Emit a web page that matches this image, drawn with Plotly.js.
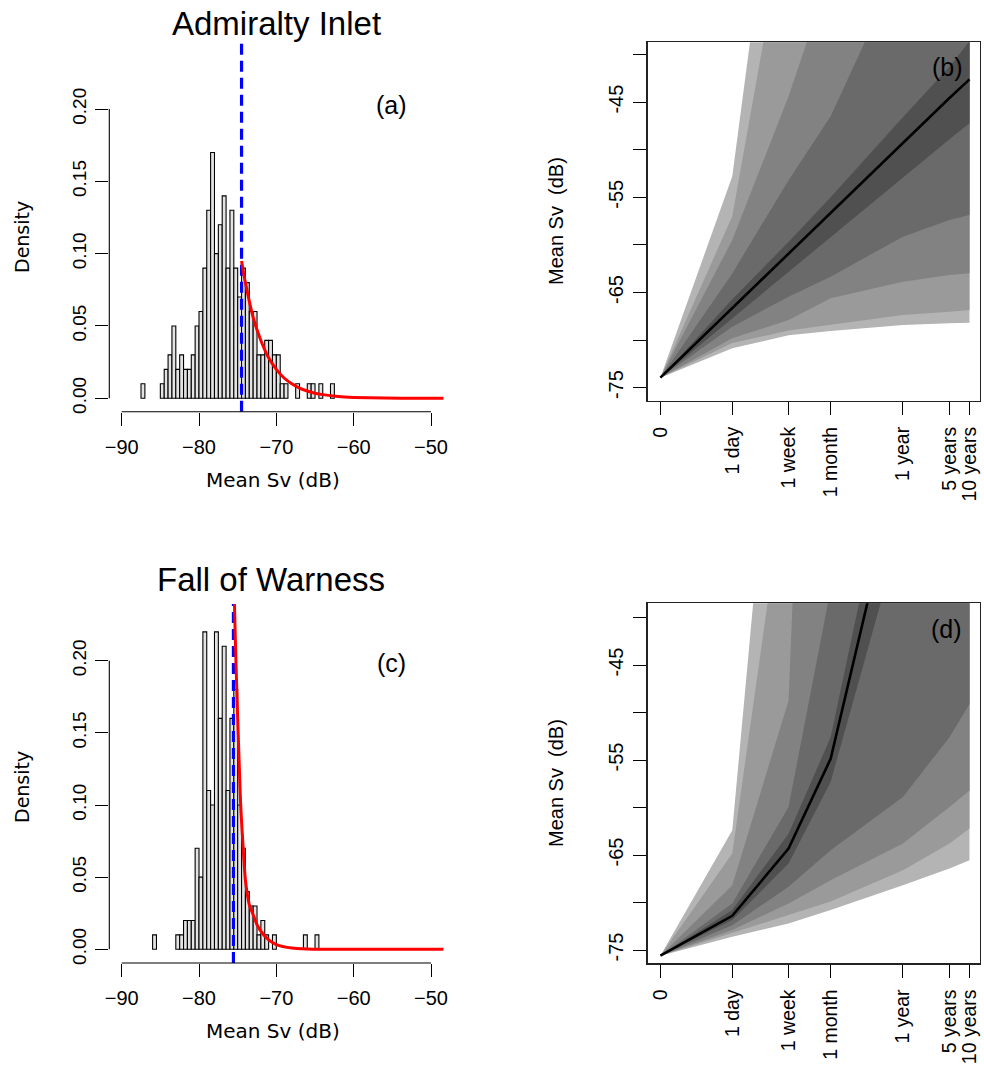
<!DOCTYPE html>
<html><head><meta charset="utf-8">
<script src="https://cdn.plot.ly/plotly-3.0.1.min.js"></script>
<style>html,body{margin:0;padding:0;background:#fff}#chart{width:984px;height:1066px}</style>
</head><body><div id="chart"></div>
<script>
// ---------- Histogram (a) Admiralty Inlet: left bin edges and densities ----------
const binWidth = 0.5;
const binLeftA = [-87.5,-85.0,-84.5,-84.0,-83.5,-83.0,-82.5,-82.0,-81.5,-81.0,-80.5,-80.0,-79.5,-79.0,-78.5,-78.0,-77.5,-77.0,-76.5,-76.0,-75.5,-75.0,-74.5,-74.0,-73.5,-73.0,-72.5,-72.0,-71.5,-71.0,-70.5,-70.0,-69.5,-69.0,-67.5,-66.0,-65.5,-64.5,-63.0];
const densA   = [0.01,0.01,0.02,0.03,0.05,0.02,0.03,0.02,0.02,0.03,0.05,0.06,0.09,0.13,0.17,0.10,0.12,0.14,0.09,0.13,0.09,0.07,0.09,0.08,0.06,0.06,0.03,0.03,0.04,0.04,0.03,0.03,0.01,0.01,0.01,0.01,0.01,0.01,0.01];
const thresholdA = -74.5;
const tailXA = [-74.5,-74.0,-73.0,-72.0,-71.0,-70.0,-69.0,-68.0,-67.0,-66.0,-65.0,-64.0,-62.0,-60.0,-56.0,-52.0,-48.0];
const tailYA = [0.095,0.080,0.056,0.040,0.028,0.020,0.014,0.010,0.007,0.005,0.0035,0.0025,0.0012,0.0006,0.0001,0.0,0.0];

// ---------- Histogram (c) Fall of Warness ----------
const binLeftC = [-86.0,-83.0,-82.5,-82.0,-81.5,-81.0,-80.5,-80.0,-79.5,-79.0,-78.5,-78.0,-77.5,-77.0,-76.5,-76.0,-75.5,-75.0,-74.5,-74.0,-73.5,-73.0,-72.5,-72.0,-71.5,-70.5,-66.5,-65.0];
const densC   = [0.01,0.01,0.01,0.02,0.02,0.02,0.07,0.05,0.22,0.11,0.10,0.22,0.16,0.21,0.11,0.16,0.18,0.10,0.07,0.04,0.03,0.03,0.01,0.02,0.01,0.01,0.01,0.01];
const thresholdC = -75.55;
const tailXC = [-75.55,-75.4,-75.2,-75.0,-74.8,-74.6,-74.4,-74.0,-73.5,-73.0,-72.5,-72.0,-71.0,-70.0,-68.0,-66.0,-64.0,-60.0,-48.0];
const tailYC = [0.30,0.235,0.195,0.16,0.128,0.098,0.080,0.048,0.031,0.024,0.017,0.0125,0.0065,0.0033,0.00086,0.00022,0.00006,0.0,0.0];

// histogram axes
const histXTicks = [-90,-80,-70,-60,-50];
const histYTicks = [0,0.05,0.10,0.15,0.20];
const histYLabels = ['0.00','0.05','0.10','0.15','0.20'];

// ---------- Fan charts (b) and (d) ----------
const timeDays   = [0.0833, 1, 7, 30, 365, 1825, 3650];
const timeLabels = ['0','1 day','1 week','1 month','1 year','5 years','10 years'];
const fanYTicks  = [-75,-70,-65,-60,-55,-50,-45,-40];
const fanYLabels = ['-75','','-65','','-55','','-45',''];

const medianB = [-73.95,-66.62,-60.95,-56.66,-49.3,-44.57,-42.61];
const up1B = [-73.95,-65.7,-59.7,-55.0,-46.6,-41.3,-38.6];
const up2B = [-73.95,-63.0,-53.2,-46.5,-30.0,-20,-15];
const up3B = [-73.95,-59.5,-44.4,-31.3,-15,-5,0];
const up4B = [-73.95,-57.0,-23.9,-5,10,20,25];
const up5B = [-73.95,-52.8,-8,10,25,35,40];
const lo1B = [-73.95,-67.7,-62.87,-59.2,-52.94,-48.9,-47.23];
const lo2B = [-73.95,-68.6,-65.44,-63.34,-59.14,-57.39,-56.86];
const lo3B = [-73.95,-69.82,-67.9,-65.62,-63.87,-63.17,-62.99];
const lo4B = [-73.95,-70.3,-69.0,-68.4,-67.37,-67.02,-66.84];
const lo5B = [-73.95,-70.87,-69.5,-69.05,-68.42,-68.24,-68.17];

const medianD = [-75.6,-71.4,-64.33,-54.87,-22.6,-10,-5];
const up1D = [-75.6,-70.8,-62.75,-52.6,-16.7,0,5];
const up2D = [-75.6,-70.1,-59.95,-37,20,30,35];
const up3D = [-75.6,-68.17,-48.75,60,70,80,85];
const up4D = [-75.6,-64.85,-22.8,70,80,90,95];
const up5D = [-75.6,-62.4,2,80,90,100,105];
const lo1D = [-75.6,-71.85,-65.9,-57.3,-30.1,-20,-15];
const lo2D = [-75.6,-72.4,-68.35,-64.5,-58.9,-52.6,-49.1];
const lo3D = [-75.6,-72.9,-70.1,-67.65,-63.8,-59.95,-58.2];
const lo4D = [-75.6,-73.25,-71.3,-69.9,-66.6,-63.8,-62.2];
const lo5D = [-75.6,-73.6,-72.2,-70.8,-68.17,-66.42,-65.55];

const fanColors = ['#b4b4b4','#9a9a9a','#828282','#6a6a6a','#505050'];

// ---------- build ----------
const W = 984, H = 1066;
const px = v => v / W;
const py = v => 1 - v / H;
const SANS = 'Liberation Sans, Arial, sans-serif';
const DEJA = 'DejaVu Sans, sans-serif';

const rangeYA = [-0.0093, 0.2464];
const rangeYC = [-0.0095, 0.2393];
const rangeXH = [-91.6, -48.4];

const traces = [];
function hist(bl, d, xa, ya) {
  traces.push({type:'bar', x: bl, y: d, width: bl.map(()=>binWidth), offset: 0,
    marker:{color:'#e3e3e3', line:{color:'#000', width:1.1}}, xaxis:xa, yaxis:ya, hoverinfo:'skip'});
}
function vline(t, yr, xa, ya) {
  traces.push({type:'scatter', mode:'lines', x:[t,t], y:[yr[0], yr[1]],
    line:{color:'#0000ff', width:3.2, dash:'11px,6px'}, xaxis:xa, yaxis:ya, hoverinfo:'skip'});
}
function tail(xs, ys, xa, ya) {
  traces.push({type:'scatter', mode:'lines', x:xs, y:ys, line:{color:'#ff0000', width:3, shape:'spline', smoothing:0.6},
    xaxis:xa, yaxis:ya, hoverinfo:'skip'});
}
hist(binLeftA, densA, 'x', 'y'); vline(thresholdA, rangeYA, 'x', 'y'); tail(tailXA, tailYA, 'x', 'y');
hist(binLeftC, densC, 'x3', 'y3'); vline(thresholdC, rangeYC, 'x3', 'y3'); tail(tailXC, tailYC, 'x3', 'y3');

function fan(ups, los, med, xa, ya) {
  for (let i = 0; i < ups.length; i++) {
    const u = ups[i], l = los[i];
    traces.push({type:'scatter', mode:'lines', fill:'toself', fillcolor: fanColors[i],
      x: timeDays.concat(timeDays.slice().reverse()), y: u.concat(l.slice().reverse()),
      line:{width:0, color: fanColors[i]}, xaxis:xa, yaxis:ya, hoverinfo:'skip'});
  }
  traces.push({type:'scatter', mode:'lines', x: timeDays, y: med, line:{color:'#000', width:2.6},
    xaxis:xa, yaxis:ya, hoverinfo:'skip'});
}
fan([up5B,up4B,up3B,up2B,up1B],[lo5B,lo4B,lo3B,lo2B,lo1B], medianB, 'x2', 'y2');
fan([up5D,up4D,up3D,up2D,up1D],[lo5D,lo4D,lo3D,lo2D,lo1D], medianD, 'x4', 'y4');

const histX = (dom, anchor) => ({domain: dom, anchor: anchor, range: rangeXH, tickvals: histXTicks,
  ticks:'outside', ticklen:13, tickwidth:1, tickcolor:'#000', showline:false, zeroline:false, showgrid:false,
  tickfont:{family:SANS, size:20, color:'#000'}, automargin:false, fixedrange:true, ticklabelstandoff:4});
const histY = (dom, anchor, rng) => ({domain: dom, anchor: anchor, range: rng, tickvals: histYTicks, ticktext: histYLabels,
  tickangle:-90, ticks:'outside', ticklen:13, tickwidth:1, tickcolor:'#000', showline:false, zeroline:false, showgrid:false,
  tickfont:{family:SANS, size:19, color:'#000'}, automargin:false, fixedrange:true, ticklabelstandoff:2});
const fanX = (dom, anchor) => ({type:'log', domain: dom, anchor: anchor, range:[-1.27, 3.72], tickvals: timeDays, ticktext: timeLabels,
  tickangle:-90, ticks:'outside', ticklen:13, tickwidth:1, tickcolor:'#000', showline:true, mirror:true, linecolor:'#222', linewidth:1.3,
  zeroline:false, showgrid:false, tickfont:{family:SANS, size:19.5, color:'#000'}, automargin:false, fixedrange:true, ticklabelstandoff:4});
const fanY = (dom, anchor, rng) => ({domain: dom, anchor: anchor, range: rng, tickvals: fanYTicks, ticktext: fanYLabels,
  tickangle:-90, ticks:'outside', ticklen:13, tickwidth:1, tickcolor:'#000', showline:true, mirror:true, linecolor:'#222', linewidth:1.3,
  zeroline:false, showgrid:false, tickfont:{family:SANS, size:20, color:'#000'}, automargin:false, fixedrange:true, ticklabelstandoff:2});

const domHX = [px(109.3), px(443.4)];
const domFX = [px(647.7), px(980)];

function ann(text, x, y, size, family, angle) {
  return {text: text, xref:'paper', yref:'paper', x: px(x), y: py(y), xanchor:'center', yanchor:'middle',
    textangle: angle || 0, showarrow:false, font:{family: family, size: size, color:'#000'}};
}

const layout = {
  width: W, height: H, margin:{l:0,r:0,t:0,b:0}, paper_bgcolor:'#fff', plot_bgcolor:'#fff', showlegend:false,
  xaxis:  histX(domHX, 'y'),
  yaxis:  histY([py(411.7), py(42)], 'x', rangeYA),
  xaxis3: histX(domHX, 'y3'),
  yaxis3: histY([py(963), py(604)], 'x3', rangeYC),
  xaxis2: fanX(domFX, 'y2'),
  yaxis2: fanY([py(400.7), py(42.3)], 'x2', [-76.37, -38.72]),
  xaxis4: fanX(domFX, 'y4'),
  yaxis4: fanY([py(963.3), py(603.3)], 'x4', [-76.4, -38.5]),
  shapes: [
    {type:'line', xref:'x', yref:'y domain', x0:histXTicks[0], x1:histXTicks[histXTicks.length-1], y0:0, y1:0, line:{color:'#000', width:1.1}},
    {type:'line', xref:'x domain', yref:'y', x0:0, x1:0, y0:histYTicks[0], y1:histYTicks[histYTicks.length-1], line:{color:'#000', width:1.1}},
    {type:'line', xref:'x3', yref:'y3 domain', x0:histXTicks[0], x1:histXTicks[histXTicks.length-1], y0:0, y1:0, line:{color:'#000', width:1.1}},
    {type:'line', xref:'x3 domain', yref:'y3', x0:0, x1:0, y0:histYTicks[0], y1:histYTicks[histYTicks.length-1], line:{color:'#000', width:1.1}}
  ],
  annotations: [
    ann('Admiralty Inlet', 276, 23, 33, SANS),
    ann('Fall of Warness', 271, 579, 33, SANS),
    ann('(a)', 391, 105, 25, SANS),
    ann('(b)', 947, 67, 25, SANS),
    ann('(c)', 391, 663, 25, SANS),
    ann('(d)', 946, 629, 25, SANS),
    ann('Mean Sv (dB)', 272.5, 480, 20, DEJA),
    ann('Mean Sv (dB)', 272.5, 1031, 20, DEJA),
    ann('Density', 22, 237, 19, DEJA, -90),
    ann('Density', 22, 787, 19, DEJA, -90),
    ann('Mean Sv\u00a0 (dB)', 556, 221, 20, SANS, -90),
    ann('Mean Sv\u00a0 (dB)', 556, 783, 20, SANS, -90)
  ]
};

Plotly.newPlot('chart', traces, layout, {staticPlot:true, displayModeBar:false});
</script></body></html>
